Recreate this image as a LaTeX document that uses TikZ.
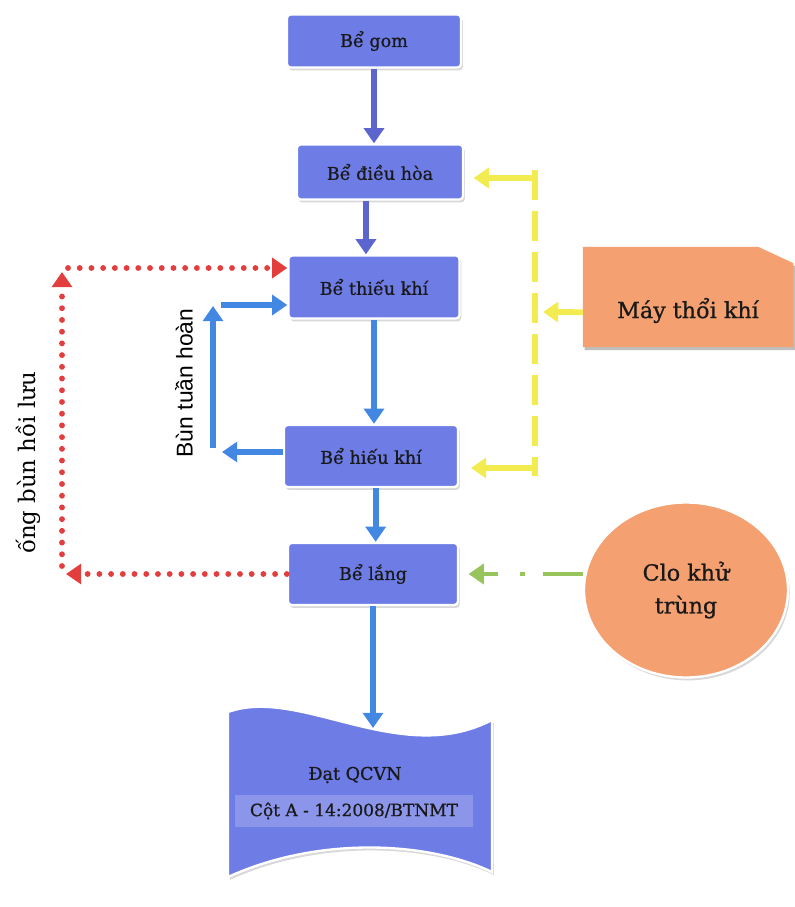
\documentclass[tikz,border=0pt]{standalone}
\usepackage{fontspec}
\setmainfont{DejaVu Serif}
\newfontfamily\tankfont[FakeBold=0.8]{DejaVu Serif}
\newfontfamily\sansviet{Liberation Sans}
\usetikzlibrary{arrows.meta,shapes.geometric,shadows,backgrounds}

\definecolor{tankblue}{RGB}{110,124,230}
\definecolor{feedblue}{RGB}{92,100,206}
\definecolor{flowblue}{RGB}{66,136,226}
\definecolor{backred}{RGB}{226,62,62}
\definecolor{airyellow}{RGB}{242,236,80}
\definecolor{clogreen}{RGB}{152,196,92}
\definecolor{equip}{RGB}{244,160,112}

\begin{document}
\begin{tikzpicture}[x=0.03cm, y=-0.03cm, >={Triangle[width=17pt,length=13pt]}]
	\tikzstyle{tank}=[rectangle, rounded corners=3pt, fill=tankblue, draw=white, line width=2pt, drop shadow={shadow xshift=1.5pt, shadow yshift=-2.5pt, fill=black!30}, text=black!90, font=\tankfont\fontsize{15}{18}\selectfont]
	\tikzstyle{feed}=[->, draw=feedblue, line width=5pt]
	\tikzstyle{flow}=[->, draw=flowblue, line width=5pt]
	\tikzstyle{back}=[->, draw=backred, line width=5pt, dash pattern=on 0pt off 10pt, line cap=round]
	\tikzstyle{air}=[->, draw=airyellow, line width=5pt]
	\tikzstyle{chlor}=[->, draw=clogreen, line width=3.5pt, dash pattern=on 34pt off 15pt on 5pt off 18pt on 60pt]
	\useasboundingbox (0,0) rectangle (795,907);

	% treatment line
	\node[tank, minimum width=5.22cm, minimum height=1.59cm] (gom) at (374,41) {Bể gom};
	\node[tank, minimum width=4.98cm, minimum height=1.65cm] (hoa) at (380,172) {Bể điều hòa};
	\node[tank, minimum width=5.13cm, minimum height=1.89cm] (thieu) at (374,287) {Bể thiếu khí};
	\node[tank, minimum width=5.22cm, minimum height=1.86cm] (hieu) at (371,456) {Bể hiếu khí};
	\node[tank, minimum width=5.1cm, minimum height=1.86cm] (lang) at (373,574) {Bể lắng};

	% outlet
	\fill[tankblue, draw=white, line width=2pt, drop shadow={shadow xshift=1.5pt, shadow yshift=-2.5pt, fill=black!30}]
		(228,712) .. controls (300,686) and (400,768) .. (492,720) -- (492,872)
		.. controls (430,842) and (320,835) .. (228,877) -- cycle;
	\coordinate (datin) at (373,728);
	\node[text=black!90, font=\tankfont\fontsize{15}{18}\selectfont] (dat) at (355,775) {Đạt QCVN};
	\node[fill=tankblue!80!white, minimum width=7.11cm, minimum height=0.96cm, text=black!90, font=\tankfont\fontsize{14.5}{17}\selectfont] (cot) at (354,811) {Cột A - 14:2008/BTNMT};

	% air and chlorine
	\node[minimum width=6.3cm, minimum height=3cm, text height=36pt, text depth=0pt, text=black!90, font=\tankfont\fontsize{19}{22}\selectfont] (may) at (688,297) {Máy thổi khí};
	\begin{scope}[on background layer]
		\fill[black!25] ([shift={(1.5pt,-2.5pt)}]may.north west) -- ([shift={(-28.5pt,-2.5pt)}]may.north east) -- ([shift={(1.5pt,-16.5pt)}]may.north east) -- ([shift={(1.5pt,-2.5pt)}]may.south east) -- ([shift={(1.5pt,-2.5pt)}]may.south west) -- cycle;
		\fill[equip] (may.north west) -- ([xshift=-30pt]may.north east) -- ([yshift=-14pt]may.north east) -- (may.south east) -- (may.south west) -- cycle;
	\end{scope}
	\node[ellipse, fill=equip, draw=white, line width=2pt, drop shadow={shadow xshift=1.5pt, shadow yshift=-2.5pt, fill=black!30}, minimum width=6.12cm, minimum height=5.25cm, align=center, text=black!90, font=\tankfont\fontsize{19}{28}\selectfont] (clo) at (686,590) {Clo khử\\trùng};

	% main flow
	\path (gom.south) edge[feed] (gom.south |- hoa.north);
	\path ([xshift=-12pt]hoa.south) edge[feed] ([xshift=-12pt]hoa.south |- thieu.north);
	\path (thieu.south) edge[flow] (thieu.south |- hieu.north);
	\path ([xshift=4pt]hieu.south) edge[flow] ([xshift=4pt]hieu.south |- lang.north);
	\path (lang.south) edge[flow] (datin);

	% sludge recycle
	\coordinate (bt1) at (222,452);
	\coordinate (bt2) at (213,448);
	\coordinate (bt3) at (213,306);
	\coordinate (bt4) at (221,305);
	\path (hieu.west |- bt1) edge[flow] (bt1);
	\path (bt2) edge[flow] (bt3);
	\path (bt4) edge[flow] (thieu.west |- bt4);
	\node[rotate=90, font=\sansviet\fontsize{19.5}{22}\selectfont] (buntext) at (184,383) {Bùn tuần hoàn};

	% sludge return
	\coordinate (r1) at (66,574);
	\coordinate (r2) at (62,566);
	\coordinate (r3) at (62,272);
	\coordinate (r4) at (68,268);
	\path (lang.west) edge[back] (r1);
	\path (r2) edge[back] (r3);
	\path (r4) edge[back] (thieu.west |- r4);
	\node[rotate=90, font=\fontsize{19.5}{22}\selectfont] (ongtext) at (28,463) {ống bùn hồi lưu};

	% air line
	\coordinate (y1) at (535,170);
	\coordinate (y2) at (535,476);
	\coordinate (y3) at (538,178);
	\coordinate (y4) at (538,468);
	\coordinate (y5) at (543,312);
	\draw[draw=airyellow, line width=5pt, dash pattern=on 26pt off 9pt] (y1) -- (y2);
	\path (y3) edge[air, shorten >=8pt] (hoa.east |- y3);
	\path (y4) edge[air, shorten >=10pt] (hieu.east |- y4);
	\path ([yshift=-13pt]may.west) edge[air] (y5);

	% chlorine dosing
	\path (clo.west |- lang.east) edge[chlor, shorten >=8pt] (lang.east);
\end{tikzpicture}
\end{document}
